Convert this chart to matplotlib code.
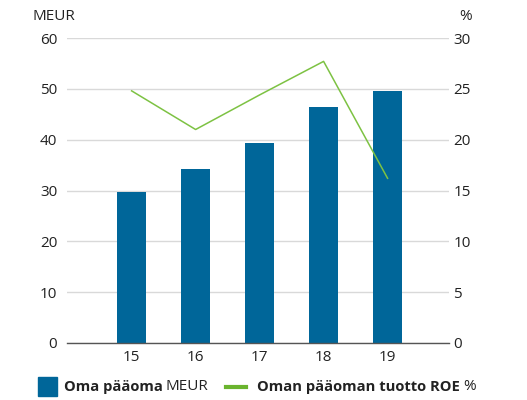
import matplotlib.pyplot as plt
from matplotlib.patches import Rectangle
from matplotlib.lines import Line2D

plt.rcParams["font.family"] = ["Open Sans", "DejaVu Sans"]
plt.rcParams["font.size"] = 11

years = ["15", "16", "17", "18", "19"]
equity_meur = [29.7, 34.2, 39.3, 46.4, 49.6]
roe_pct = [24.8, 21.0, 24.4, 27.7, 16.2]

BAR_COLOR = "#006699"
LINE_COLOR = "#7dc243"
GRID_COLOR = "#d9d9d9"
TEXT_COLOR = "#222222"

fig = plt.figure(figsize=(5.27, 4.0), dpi=100)
ax = fig.add_axes([67 / 527, 1 - 343 / 400, (449 - 67) / 527, (343 - 38) / 400])
ax2 = ax.twinx()

x = list(range(len(years)))
ax.bar(x, equity_meur, width=0.45, color=BAR_COLOR, zorder=3)
ax2.plot(x, roe_pct, color=LINE_COLOR, lw=1.1, zorder=4)

ax.set_xlim(-1.01, 4.96)
ax.set_ylim(0, 60)
ax2.set_ylim(0, 30)
ax.set_yticks(range(0, 61, 10))
ax2.set_yticks(range(0, 31, 5))
ax.set_xticks(x)
ax.set_xticklabels(years)

ax.grid(axis="y", color=GRID_COLOR, lw=1.0, zorder=0)
ax.set_axisbelow(True)
for a in (ax, ax2):
    for s in a.spines.values():
        s.set_visible(False)
    a.tick_params(length=0, colors=TEXT_COLOR, labelsize=11)
ax.tick_params(axis="y", pad=7)
ax2.tick_params(axis="y", pad=3)
ax.tick_params(axis="x", pad=5)
ax.axhline(0, color="#555555", lw=1.0, zorder=5, clip_on=False)
ax2.set_zorder(ax.get_zorder() + 1)
ax2.patch.set_visible(False)

fig.text(33 / 527, 1 - 17 / 400, "MEUR", fontsize=11, color=TEXT_COLOR, va="center", ha="left")
fig.text(472 / 527, 1 - 17 / 400, "%", fontsize=11, color=TEXT_COLOR, va="center", ha="right")

# legend drawn piece by piece so the unit can be regular weight
fig.patches.append(Rectangle((38 / 527, 1 - 396 / 400), 19 / 527, 19 / 400,
                             transform=fig.transFigure, color=BAR_COLOR))
fig.lines.append(Line2D([226 / 527, 246 / 527], [1 - 386.5 / 400] * 2,
                        transform=fig.transFigure, color="#6ab42e", lw=3))

renderer = fig.canvas.get_renderer()
ly = 1 - 386.5 / 400


def text_pair(x0, bold, regular):
    t = fig.text(x0, ly, bold, fontweight="bold", fontsize=10.6, color=TEXT_COLOR, va="center")
    bb = t.get_window_extent(renderer)
    fig.text(bb.x1 / fig.bbox.width + 3 / 527, ly, regular, fontsize=11,
             color=TEXT_COLOR, va="center")


text_pair(64 / 527, "Oma pääoma", "MEUR")
text_pair(257 / 527, "Oman pääoman tuotto ROE", "%")

fig.savefig("out.png", dpi=100)
